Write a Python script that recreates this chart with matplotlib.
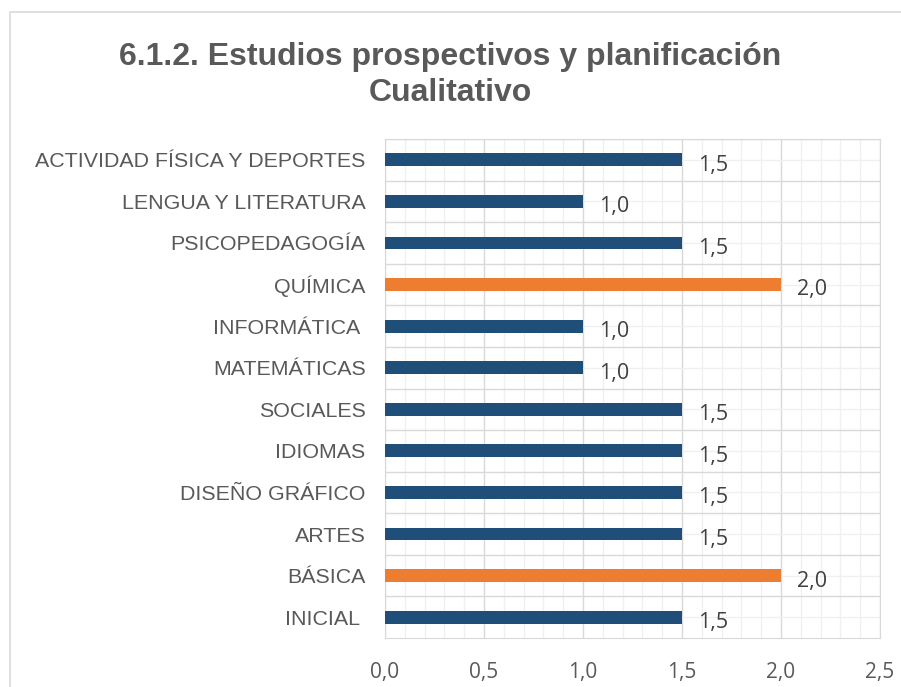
import numpy as np
import matplotlib
matplotlib.use('Agg')
import matplotlib.pyplot as plt
from matplotlib.patches import Rectangle
from matplotlib.ticker import MultipleLocator

# Datos (de abajo hacia arriba)
categorias = ['INICIAL ', 'BÁSICA', 'ARTES', 'DISEÑO GRÁFICO', 'IDIOMAS', 'SOCIALES',
              'MATEMÁTICAS', 'INFORMÁTICA ', 'QUÍMICA', 'PSICOPEDAGOGÍA',
              'LENGUA Y LITERATURA', 'ACTIVIDAD FÍSICA Y DEPORTES']
valores = [1.5, 2.0, 1.5, 1.5, 1.5, 1.5, 1.0, 1.0, 2.0, 1.5, 1.0, 1.5]
destacados = ['BÁSICA', 'QUÍMICA']
titulo = '6.1.2. Estudios prospectivos y planificación\nCualitativo'

azul = '#1f4e79'
naranja = '#ed7d31'
colores = [naranja if c in destacados else azul for c in categorias]

fig = plt.figure(figsize=(9.01, 6.87), dpi=100)
fig.patches.append(Rectangle((10 / 901, -0.1), 1.2, 1 - 12 / 687 + 0.1,
                             transform=fig.transFigure, fill=False,
                             edgecolor='#d9d9d9', linewidth=1.2))

ax = fig.add_axes([385 / 901, 1 - 638 / 687, 495 / 901, 499 / 687])
y = np.arange(len(categorias))
ax.barh(y, valores, height=0.31, color=colores, zorder=3)

ax.set_xlim(0, 2.5)
ax.set_ylim(-0.5, len(categorias) - 0.5)
ax.xaxis.set_major_locator(MultipleLocator(0.5))
ax.xaxis.set_minor_locator(MultipleLocator(0.1))
ax.set_yticks(y + 0.5, minor=False)
ax.set_yticklabels([])
ax.set_yticks(y, labels=categorias, minor=True)

ax.grid(True, which='major', color='#d9d9d9', linewidth=1.0, zorder=1)
ax.grid(True, which='minor', color='#f0f0f0', linewidth=1.0, zorder=0)
ax.set_axisbelow(True)

ax.tick_params(axis='both', which='both', length=0)
ax.tick_params(axis='y', which='minor', pad=14, labelsize=15.4, labelcolor='#595959')
ax.tick_params(axis='x', which='major', pad=17, labelsize=15, labelcolor='#595959')
for lab in ax.get_yticklabels(minor=True):
    lab.set_fontfamily('Liberation Sans')
ax.set_xticks(np.arange(0, 2.51, 0.5))
ax.set_xticklabels([f'{v:.1f}'.replace('.', ',') for v in np.arange(0, 2.51, 0.5)],
                   fontfamily='Open Sans')

for s in ax.spines.values():
    s.set_color('#d9d9d9')

for yi, v in zip(y, valores):
    ax.text(v + 0.08, yi - 0.13, f'{v:.1f}'.replace('.', ','), va='center', ha='left',
            fontsize=15.5, color='#404040', fontfamily='Open Sans')

fig.text(0.5, 1 - 75 / 687, titulo, ha='center', va='center', fontsize=23,
         fontweight='bold', color='#595959', fontfamily='Liberation Sans',
         linespacing=1.25)

fig.savefig('out.png', dpi=100)
